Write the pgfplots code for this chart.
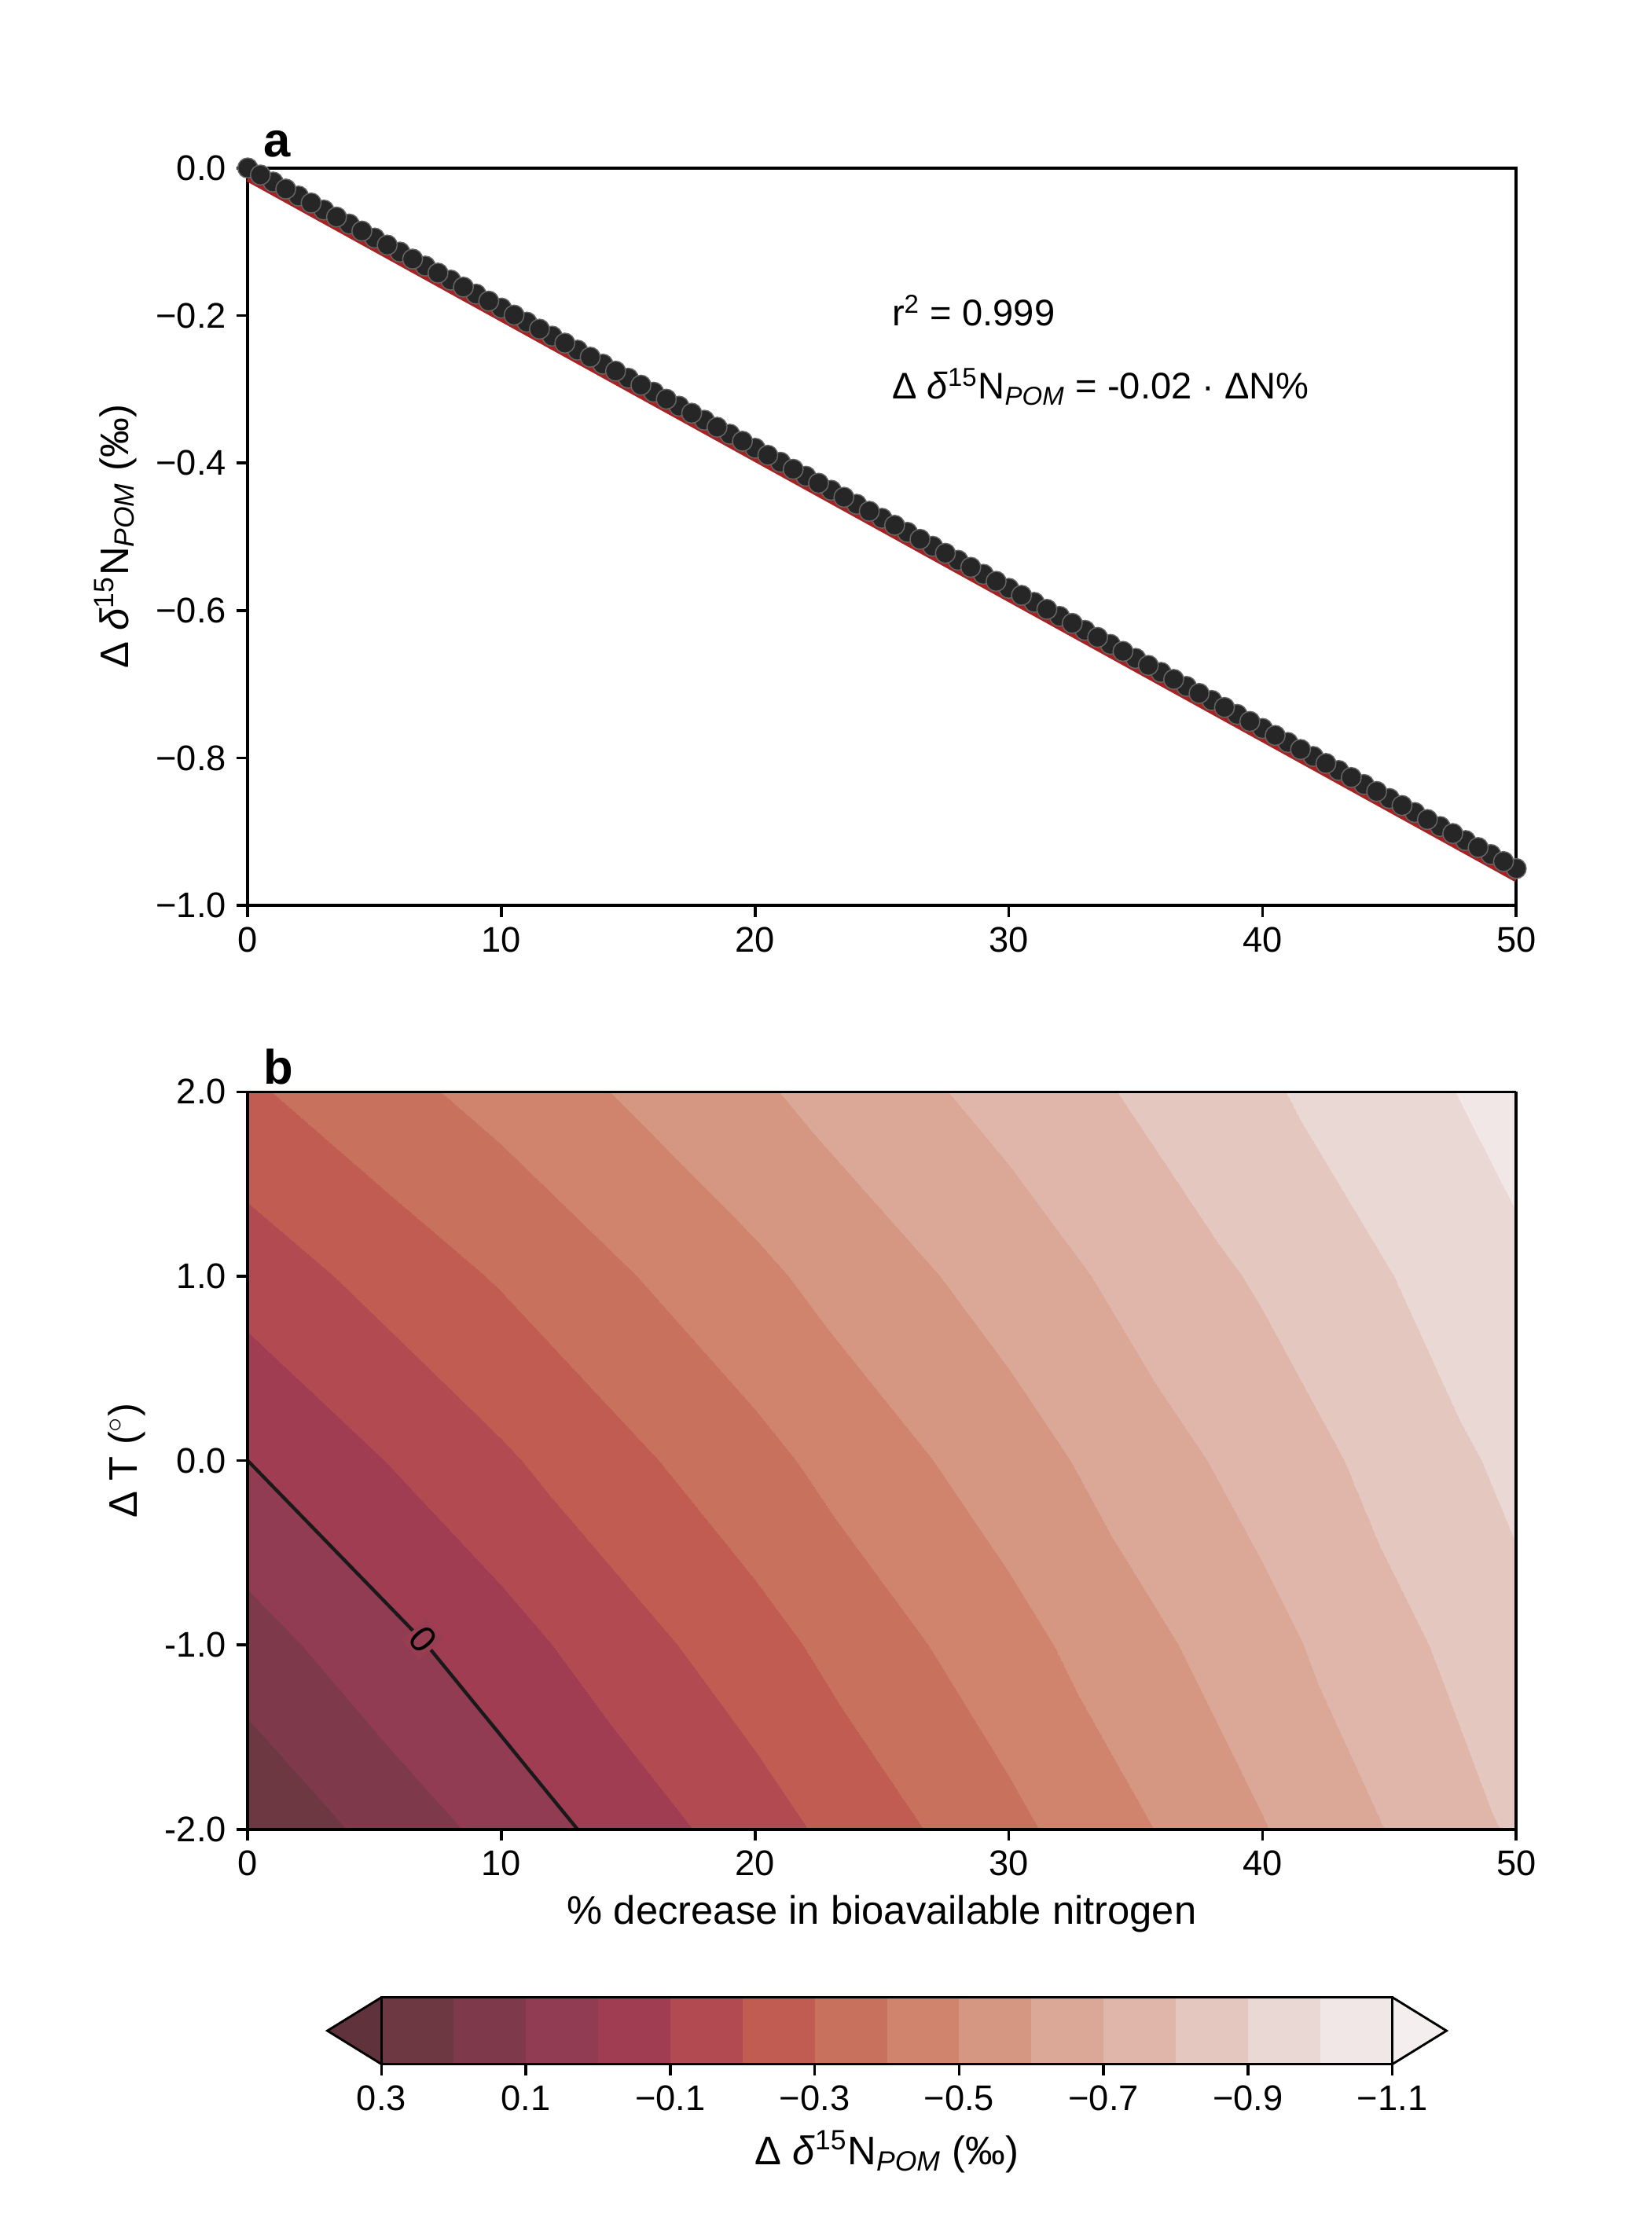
\documentclass[border=0pt]{standalone}
\usepackage{pgfplots}
\pgfplotsset{compat=1.18}
\usepackage{fontspec}
\setmainfont{Liberation Sans}
\definecolor{cb0}{RGB}{240,231,230}
\definecolor{cb1}{RGB}{233,216,211}
\definecolor{cb2}{RGB}{228,200,191}
\definecolor{cb3}{RGB}{223,182,169}
\definecolor{cb4}{RGB}{219,167,150}
\definecolor{cb5}{RGB}{214,151,130}
\definecolor{cb6}{RGB}{208,132,110}
\definecolor{cb7}{RGB}{200,113,92}
\definecolor{cb8}{RGB}{192,92,81}
\definecolor{cb9}{RGB}{178,74,82}
\definecolor{cb10}{RGB}{160,61,83}
\definecolor{cb11}{RGB}{145,60,82}
\definecolor{cb12}{RGB}{126,58,75}
\definecolor{cb13}{RGB}{110,56,66}
\definecolor{redline}{RGB}{165,35,35}
\definecolor{zerobg}{RGB}{152,62,82}
\definecolor{trid}{RGB}{96,50,60}
\definecolor{tril}{RGB}{244,238,238}
\pgfplotsset{colormap={br}{rgb255=(240,231,230) rgb255=(233,216,211) rgb255=(228,200,191) rgb255=(223,182,169) rgb255=(219,167,150) rgb255=(214,151,130) rgb255=(208,132,110) rgb255=(200,113,92) rgb255=(192,92,81) rgb255=(178,74,82) rgb255=(160,61,83) rgb255=(145,60,82) rgb255=(126,58,75) rgb255=(110,56,66)}}
\pgfplotsset{every axis/.style={scale only axis, axis line style={line width=1pt}, tick style={line width=1pt,black}, tick align=outside, major tick length=4pt, xtick pos=bottom, ytick pos=left, tick label style={font=\fontsize{12.5}{14}\selectfont}, label style={font=\fontsize{14}{16}\selectfont}, /pgf/number format/assume math mode=true}}
\begin{document}
\begin{tikzpicture}
\useasboundingbox (0pt,0pt) rectangle (580pt,-785pt);
% panel a
\begin{axis}[at={(87pt,-318pt)}, anchor=south west, width=445.5pt, height=259pt,
 xmin=0,xmax=50,ymin=-1,ymax=0, xtick={0,10,...,50},
 ytick={-1,-0.8,-0.6,-0.4,-0.2,0}, yticklabels={−1.0,−0.8,−0.6,−0.4,−0.2,0.0},
 ylabel={Δ \textit{δ}\textsuperscript{15}N\textsubscript{\textit{POM}} (‰)}, clip=false]
\addplot[only marks, mark=*, mark size=3.5pt, mark options={fill=black!85, draw=black!60}] coordinates {
(0,0)(1,-0.019)(2,-0.038)(3,-0.057)(4,-0.076)(5,-0.095)(6,-0.114)(7,-0.133)(8,-0.152)(9,-0.171)(10,-0.190)(11,-0.209)(12,-0.228)(13,-0.247)(14,-0.266)(15,-0.285)(16,-0.304)(17,-0.323)(18,-0.342)(19,-0.361)(20,-0.380)
(21,-0.399)(22,-0.418)(23,-0.437)(24,-0.456)(25,-0.475)(26,-0.494)(27,-0.513)(28,-0.532)(29,-0.551)(30,-0.570)(31,-0.589)(32,-0.608)(33,-0.627)(34,-0.646)(35,-0.665)(36,-0.684)(37,-0.703)(38,-0.722)(39,-0.741)(40,-0.760)
(41,-0.779)(42,-0.798)(43,-0.817)(44,-0.836)(45,-0.855)(46,-0.874)(47,-0.893)(48,-0.912)(49,-0.931)(50,-0.950)
(0.5,-0.0095)(1.5,-0.0285)(2.5,-0.0475)(3.5,-0.0665)(4.5,-0.0855)(5.5,-0.1045)(6.5,-0.1235)(7.5,-0.1425)(8.5,-0.1615)(9.5,-0.1805)(10.5,-0.1995)(11.5,-0.2185)(12.5,-0.2375)(13.5,-0.2565)(14.5,-0.2755)(15.5,-0.2945)(16.5,-0.3135)(17.5,-0.3325)(18.5,-0.3515)(19.5,-0.3705)
(20.5,-0.3895)(21.5,-0.4085)(22.5,-0.4275)(23.5,-0.4465)(24.5,-0.4655)(25.5,-0.4845)(26.5,-0.5035)(27.5,-0.5225)(28.5,-0.5415)(29.5,-0.5605)(30.5,-0.5795)(31.5,-0.5985)(32.5,-0.6175)(33.5,-0.6365)(34.5,-0.6555)(35.5,-0.6745)(36.5,-0.6935)(37.5,-0.7125)(38.5,-0.7315)(39.5,-0.7505)
(40.5,-0.7695)(41.5,-0.7885)(42.5,-0.8075)(43.5,-0.8265)(44.5,-0.8455)(45.5,-0.8645)(46.5,-0.8835)(47.5,-0.9025)(48.5,-0.9215)(49.5,-0.9405)};
\addplot[color=redline, line width=1.8pt] coordinates {(0,-0.015)(50,-0.965)};
\node[anchor=west, font=\fontsize{13}{15}\selectfont] at (axis cs:25,-0.193) {r\textsuperscript{2} = 0.999};
\node[anchor=west, font=\fontsize{13}{15}\selectfont] at (axis cs:25,-0.297) {Δ \textit{δ}\textsuperscript{15}N\textsubscript{\textit{POM}} = -0.02 · ΔN\%};
\node[anchor=south west, font=\bfseries\fontsize{17}{19}\selectfont, inner sep=1pt] at (rel axis cs:0.01,1.01) {a};
\end{axis}
% panel b
\begin{axis}[at={(87pt,-642.5pt)}, anchor=south west, width=445.5pt, height=259pt,
 view={0}{90}, xmin=0,xmax=50,ymin=-2,ymax=2, xtick={0,10,...,50}, ztick=\empty,
 ytick={-2,-1,0,1,2}, yticklabels={-2.0,-1.0,0.0,1.0,2.0},
 ylabel={Δ T (\textsuperscript{$\circ$})}, xlabel={\% decrease in bioavailable nitrogen},
 colormap name=br, point meta min=-1.1, point meta max=0.3, axis on top, clip=false]
\addplot3[contour filled={number=14}, mesh/rows=5, mesh/cols=6] table[x=N,y=T,z=v]{
N T v
0 -2 0.286
10 -2 0.066
20 -2 -0.154
30 -2 -0.374
40 -2 -0.594
50 -2 -0.814
0 -1 0.143
10 -1 -0.0595
20 -1 -0.262
30 -1 -0.4645
40 -1 -0.667
50 -1 -0.8695
0 0 0
10 0 -0.185
20 0 -0.37
30 0 -0.555
40 0 -0.74
50 0 -0.925
0 1 -0.143
10 1 -0.3105
20 1 -0.478
30 1 -0.6455
40 1 -0.813
50 1 -0.9805
0 2 -0.286
10 2 -0.436
20 2 -0.586
30 2 -0.736
40 2 -0.886
50 2 -1.036
};
\addplot3[black!90, line width=1.2pt] coordinates {(0,0,0.5)(7.06,-1,0.5)(13,-2,0.5)};
\node[rotate=-50, fill=zerobg, inner sep=1pt, font=\fontsize{13}{15}\selectfont] at (axis cs:6.9,-0.97,0.5) {0};
\node[anchor=south west, font=\bfseries\fontsize{17}{19}\selectfont, inner sep=1pt] at (rel axis cs:0.01,1.005,1) {b};
\end{axis}
% colorbar
\begin{axis}[at={(134pt,-725pt)}, anchor=south west, width=355pt, height=23.5pt,
 xmin=-1.1, xmax=0.3, x dir=reverse, ymin=0, ymax=1, ytick=\empty, clip=false,
 xtick={0.3,0.1,-0.1,-0.3,-0.5,-0.7,-0.9,-1.1}, xticklabels={0.3,0.1,−0.1,−0.3,−0.5,−0.7,−0.9,−1.1},
 xlabel={Δ \textit{δ}\textsuperscript{15}N\textsubscript{\textit{POM}} (‰)}, axis on top, axis line style={line width=0.8pt}]
\addplot[fill=cb0, draw=none] coordinates {(-1.1,0)(-1.0,0)(-1.0,1)(-1.1,1)} --cycle;
\addplot[fill=cb1, draw=none] coordinates {(-1.0,0)(-0.9,0)(-0.9,1)(-1.0,1)} --cycle;
\addplot[fill=cb2, draw=none] coordinates {(-0.9,0)(-0.8,0)(-0.8,1)(-0.9,1)} --cycle;
\addplot[fill=cb3, draw=none] coordinates {(-0.8,0)(-0.7,0)(-0.7,1)(-0.8,1)} --cycle;
\addplot[fill=cb4, draw=none] coordinates {(-0.7,0)(-0.6,0)(-0.6,1)(-0.7,1)} --cycle;
\addplot[fill=cb5, draw=none] coordinates {(-0.6,0)(-0.5,0)(-0.5,1)(-0.6,1)} --cycle;
\addplot[fill=cb6, draw=none] coordinates {(-0.5,0)(-0.4,0)(-0.4,1)(-0.5,1)} --cycle;
\addplot[fill=cb7, draw=none] coordinates {(-0.4,0)(-0.3,0)(-0.3,1)(-0.4,1)} --cycle;
\addplot[fill=cb8, draw=none] coordinates {(-0.3,0)(-0.2,0)(-0.2,1)(-0.3,1)} --cycle;
\addplot[fill=cb9, draw=none] coordinates {(-0.2,0)(-0.1,0)(-0.1,1)(-0.2,1)} --cycle;
\addplot[fill=cb10, draw=none] coordinates {(-0.1,0)(0,0)(0,1)(-0.1,1)} --cycle;
\addplot[fill=cb11, draw=none] coordinates {(0,0)(0.1,0)(0.1,1)(0,1)} --cycle;
\addplot[fill=cb12, draw=none] coordinates {(0.1,0)(0.2,0)(0.2,1)(0.1,1)} --cycle;
\addplot[fill=cb13, draw=none] coordinates {(0.2,0)(0.3,0)(0.3,1)(0.2,1)} --cycle;
\addplot[fill=trid, draw=black, line width=0.8pt] coordinates {(0.3,0)(0.375,0.5)(0.3,1)};
\addplot[fill=tril, draw=black, line width=0.8pt] coordinates {(-1.1,0)(-1.175,0.5)(-1.1,1)};
\end{axis}
\end{tikzpicture}
\end{document}
